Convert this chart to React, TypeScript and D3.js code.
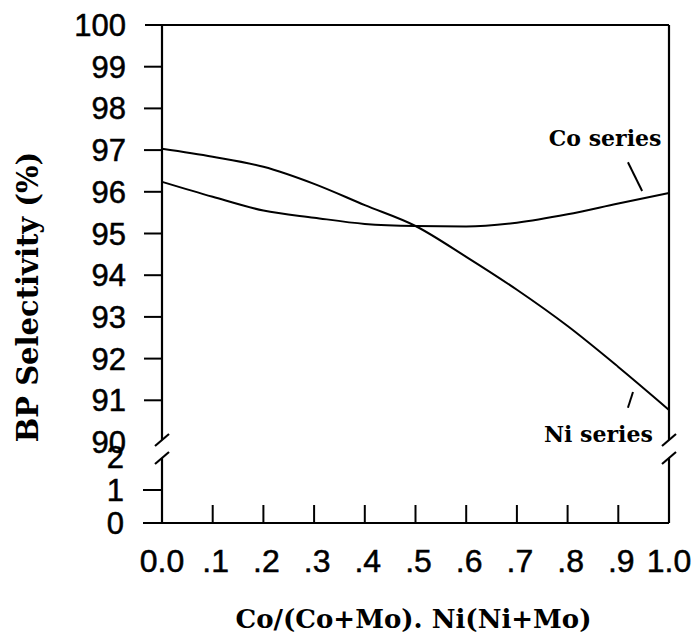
import React from "react";
import { scaleLinear, line, curveMonotoneX } from "d3";

// composition fraction on x
const fractions = [0, 0.1, 0.2, 0.3, 0.4, 0.5, 0.6, 0.7, 0.8, 0.9, 1.0];
// BP selectivity (%)
const niSeries = [97.03, 96.84, 96.6, 96.19, 95.68, 95.18, 94.44, 93.65, 92.78, 91.8, 90.77];
const coSeries = [96.24, 95.88, 95.55, 95.38, 95.23, 95.18, 95.17, 95.26, 95.46, 95.72, 95.97];

const xTickLabels = ["0.0", ".1", ".2", ".3", ".4", ".5", ".6", ".7", ".8", ".9", "1.0"];
const upperTicks = [100, 99, 98, 97, 96, 95, 94, 93, 92, 91, 90];
const lowerTicks = [0, 1, 2];

const W = 697;
const H = 638;
const numFont = "'Liberation Sans', Arial, sans-serif";
const titleFont = "'DejaVu Serif', serif";

export default function App() {
  const x = scaleLinear().domain([0, 1]).range([162, 669]);
  const yUp = scaleLinear().domain([90, 100]).range([442, 25]);
  const yLow = scaleLinear().domain([0, 2]).range([523, 457]);

  const left = x(0);
  const right = x(1);
  const top = yUp(100);
  const bottom = yLow(0);
  const breakA = 440;
  const breakB = 458;

  const curve = line<number>()
    .x((_, i) => x(fractions[i]))
    .y((d) => yUp(d))
    .curve(curveMonotoneX);

  const slash = (cx: number, cy: number) =>
    `M${cx + 7},${cy - 6}L${cx - 7},${cy + 6}`;

  return (
    <svg
      width={W}
      height={H}
      style={{ position: "absolute", left: 0, top: 0, background: "#fff" }}
    >
      <rect width={W} height={H} fill="#fff" />

      {/* frame with axis breaks */}
      <g stroke="#000" strokeWidth={2.2} fill="none">
        <line x1={145} x2={right} y1={top} y2={top} />
        <line x1={143} x2={right} y1={bottom} y2={bottom} />
        <line x1={left} x2={left} y1={top} y2={breakA} />
        <line x1={left} x2={left} y1={breakB} y2={bottom} />
        <line x1={right} x2={right} y1={top} y2={breakA} />
        <line x1={right} x2={right} y1={breakB} y2={bottom} />
        <path d={slash(left, breakA)} />
        <path d={slash(left, breakB)} />
        <path d={slash(right, breakA)} />
        <path d={slash(right, breakB)} />
      </g>

      {/* ticks */}
      <g stroke="#000" strokeWidth={2}>
        {upperTicks
          .filter((t) => t !== 90 && t !== 100)
          .map((t) => (
            <line key={"u" + t} x1={144} x2={left} y1={yUp(t)} y2={yUp(t)} />
          ))}
        {lowerTicks
          .filter((t) => t === 1)
          .map((t) => (
            <line key={"l" + t} x1={143} x2={left} y1={yLow(t)} y2={yLow(t)} />
          ))}
        {fractions.slice(1, -1).map((f) => (
          <line key={"x" + f} x1={x(f)} x2={x(f)} y1={bottom} y2={bottom - 18} />
        ))}
      </g>

      <g
        fontFamily={numFont}
        fontSize={31}
        fill="#000"
        stroke="#000"
        strokeWidth={0.5}
        textAnchor="end"
      >
        {upperTicks.map((t) => (
          <text key={"ut" + t} x={126} y={yUp(t) + 11}>
            {t}
          </text>
        ))}
        {lowerTicks.map((t) => (
          <text key={"lt" + t} x={124} y={yLow(t) + 11}>
            {t}
          </text>
        ))}
      </g>

      <g
        fontFamily={numFont}
        fontSize={32}
        fill="#000"
        stroke="#000"
        strokeWidth={0.5}
        textAnchor="middle"
      >
        {fractions.map((f, i) => (
          <text key={"xt" + i} x={x(f) + (i > 0 && i < 10 ? 3 : 0)} y={572}>
            {xTickLabels[i]}
          </text>
        ))}
      </g>

      {/* curves */}
      <g fill="none" stroke="#000" strokeWidth={2}>
        <path d={curve(niSeries) ?? ""} />
        <path d={curve(coSeries) ?? ""} />
        <line x1={x(0.919)} y1={yUp(96.71)} x2={x(0.947)} y2={yUp(96.02)} />
        <line x1={x(0.929)} y1={yUp(91.2)} x2={x(0.919)} y2={yUp(90.82)} />
      </g>

      <g fontFamily={titleFont} fontWeight="bold" fontSize={22} fill="#000" textAnchor="end">
        <text x={x(0.985)} y={yUp(97.1)}>Co series</text>
        <text x={x(0.968)} y={yUp(90)}>Ni series</text>
      </g>

      <text
        fontFamily={titleFont}
        fontWeight="bold"
        fontSize={29}
        textAnchor="middle"
        transform={`translate(38, 297) rotate(-90)`}
      >
        BP Selectivity (%)
      </text>
      <text
        fontFamily={titleFont}
        fontWeight="bold"
        fontSize={26}
        textAnchor="middle"
        x={(left + right) / 2 - 2}
        y={628}
      >
        Co/(Co+Mo). Ni(Ni+Mo)
      </text>
    </svg>
  );
}
